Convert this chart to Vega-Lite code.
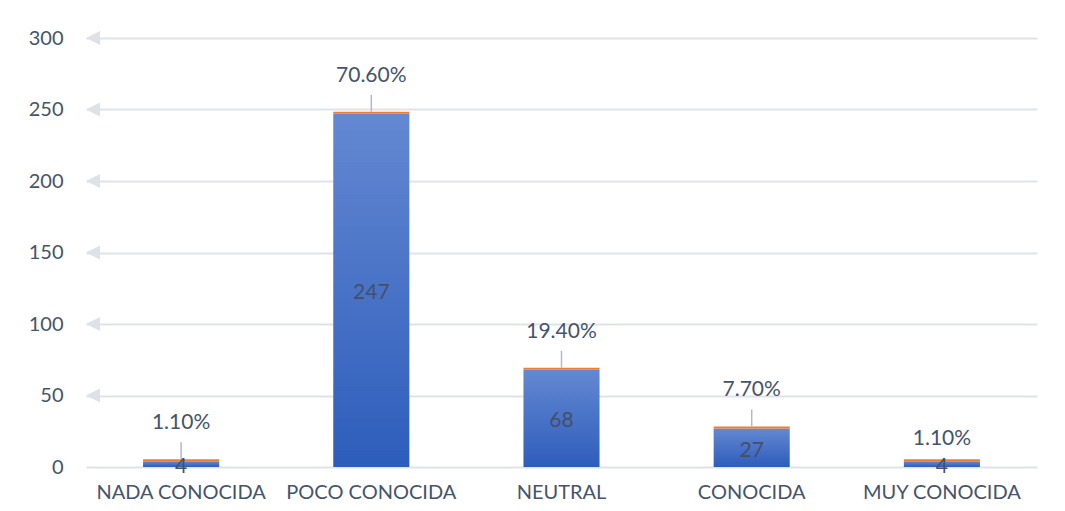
{
  "$schema": "https://vega.github.io/schema/vega-lite/v6.json",
  "width": 951,
  "height": 429,
  "autosize": "none",
  "padding": {"left": 86, "top": 38, "right": 28, "bottom": 44},
  "background": "white",
  "config": {"view": {"stroke": null}, "font": "Lato"},
  "datasets": {
    "bars": [
      {"cat": "NADA CONOCIDA", "count": 4, "pct": 0.011},
      {"cat": "POCO CONOCIDA", "count": 247, "pct": 0.706},
      {"cat": "NEUTRAL", "count": 68, "pct": 0.194},
      {"cat": "CONOCIDA", "count": 27, "pct": 0.077},
      {"cat": "MUY CONOCIDA", "count": 4, "pct": 0.011}
    ],
    "ticks": [{"v": 50}, {"v": 100}, {"v": 150}, {"v": 200}, {"v": 250}, {"v": 300}]
  },
  "data": {"name": "bars"},
  "encoding": {
    "x": {
      "field": "cat", "type": "nominal", "sort": null,
      "scale": {"paddingInner": 0.6, "paddingOuter": 0.3},
      "axis": {"title": null, "labelAngle": 0, "domain": false, "ticks": false, "labelFontSize": 20, "labelColor": "#44546a", "labelPadding": 15, "labelFont": "Lato"}
    }
  },
  "resolve": {"scale": {"y": "independent"}, "axis": {"y": "independent"}},
  "layer": [
    {
      "mark": {"type": "bar", "color": {"gradient": "linear", "x1": 0, "y1": 0, "x2": 0, "y2": 1, "stops": [{"offset": 0, "color": "#6488d2"}, {"offset": 1, "color": "#2d5dbb"}]}},
      "encoding": {
        "y": {
          "field": "count", "type": "quantitative",
          "scale": {"domain": [0, 300], "nice": false},
          "axis": {"title": null, "values": [0, 50, 100, 150, 200, 250, 300], "domain": false, "ticks": false, "gridColor": "#dfe3e9", "gridWidth": 2, "labelFontSize": 20, "labelColor": "#44546a", "labelPadding": 23, "labelFont": "Lato"}
        }
      }
    },
    {
      "layer": [
        {
          "mark": {"type": "bar", "color": "#ed7d31", "yOffset": -2},
          "encoding": {
            "y": {"field": "count", "type": "quantitative", "scale": {"domain": [0, 300], "nice": false}, "axis": null},
            "y2": {"field": "count"}
          }
        },
        {
          "transform": [{"filter": "datum.cat != 'MUY CONOCIDA'"}],
          "mark": {"type": "rule", "color": "#b0bacb", "strokeWidth": 1.5, "y2Offset": -19, "yOffset": -2},
          "encoding": {
            "y": {"field": "count", "type": "quantitative", "scale": {"domain": [0, 300], "nice": false}, "axis": null},
            "y2": {"field": "count"}
          }
        },
        {
          "transform": [{"filter": "datum.cat != 'MUY CONOCIDA'"}],
          "mark": {"type": "text", "fontSize": 21, "color": "#44546a", "baseline": "middle", "dy": -38, "font": "Lato"},
          "encoding": {
            "y": {"field": "count", "type": "quantitative", "scale": {"domain": [0, 300], "nice": false}, "axis": null},
            "text": {"field": "pct", "type": "quantitative", "format": ".2%"}
          }
        },
        {
          "transform": [{"filter": "datum.cat == 'MUY CONOCIDA'"}],
          "mark": {"type": "text", "fontSize": 21, "color": "#44546a", "baseline": "middle", "dy": -22, "font": "Lato"},
          "encoding": {
            "y": {"field": "count", "type": "quantitative", "scale": {"domain": [0, 300], "nice": false}, "axis": null},
            "text": {"field": "pct", "type": "quantitative", "format": ".2%"}
          }
        },
        {
          "data": {"name": "ticks"},
          "mark": {"type": "point", "shape": "M 0 0 L 2 -1 L 2 1 Z", "size": 196, "filled": true, "opacity": 1, "color": "#dee2e8", "strokeWidth": 0},
          "encoding": {
            "x": {"value": 0},
            "y": {"field": "v", "type": "quantitative", "scale": {"domain": [0, 300], "nice": false}, "axis": null}
          }
        }
      ]
    },
    {
      "mark": {"type": "text", "fontSize": 21, "color": "#435066", "baseline": "middle", "dy": 3, "font": "Lato"},
      "encoding": {
        "y": {"field": "count", "type": "quantitative", "scale": {"domain": [0, 600], "nice": false}, "axis": null},
        "text": {"field": "count", "type": "quantitative"}
      }
    }
  ]
}
